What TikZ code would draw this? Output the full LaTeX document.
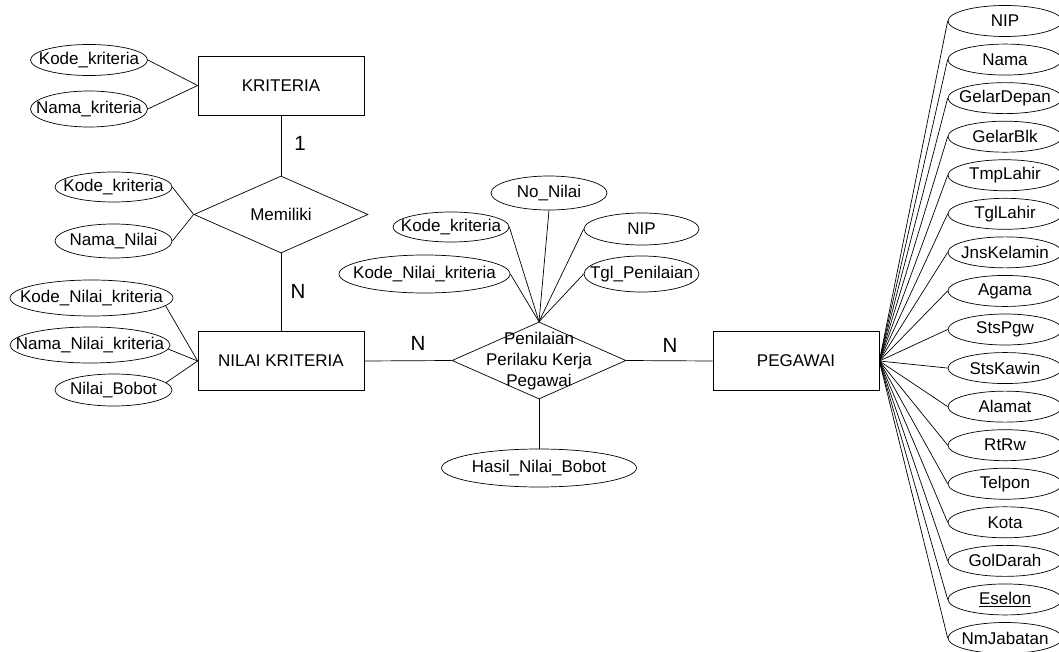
\documentclass[tikz,border=0pt]{standalone}
\usepackage{fontspec}
\setmainfont{Liberation Sans}
\usetikzlibrary{shapes.geometric}
\newcommand{\mb}[1]{\makebox[0pt][c]{#1}}
\tikzset{
  ent/.style={draw, rectangle, minimum width=166pt, minimum height=59pt, inner sep=0pt},
  rel/.style={draw, diamond, minimum width=174pt, minimum height=77pt, inner sep=0pt},
  attr/.style={draw, ellipse, inner sep=0pt, minimum width=117pt, minimum height=31pt},
  reltext/.style={inner sep=0pt},
  card/.style={inner sep=0pt, font=\fontsize{20.5}{24}\selectfont},
}
\begin{document}
\begin{tikzpicture}[x=1pt, y=-1pt, line width=0.7pt,
  font=\fontsize{17}{21}\selectfont]
\useasboundingbox (0,0) rectangle (1059,652);

% entities and relationships
\node[ent] (kri) at (281,85.5) {KRITERIA};
\node[rel] (mem) at (281,214.5) {};
\node[reltext] at (281,214.5) {Memiliki};
\node[ent] (nk) at (281,361) {NILAI KRITERIA};
\node[rel] (pen) at (539,360.5) {};
\node[reltext, align=center] at (539,361) {Penilaian\\Perilaku Kerja\\Pegawai};
\node[ent] (peg) at (796,361) {PEGAWAI};

% KRITERIA attributes
\node[attr] (k1) at (89,60) {\mb{Kode\_kriteria}};
\node[attr, minimum height=36pt] (k2) at (89,109) {\mb{Nama\_kriteria}};
\draw (k1.east) -- (kri.west);
\draw (k2.east) -- (kri.west);

% Memiliki attributes
\node[attr, minimum height=30pt] (m1) at (113.5,187) {\mb{Kode\_kriteria}};
\node[attr, minimum height=34pt] (m2) at (113.5,241) {\mb{Nama\_Nilai}};
\draw (m1.east) -- (mem.west);
\draw (m2.east) -- (mem.west);

% NILAI KRITERIA attributes
\node[attr, minimum width=163pt, minimum height=36pt] (n1) at (91.5,298) {\mb{Kode\_Nilai\_kriteria}};
\node[attr, minimum width=160pt, minimum height=36pt] (n2) at (90,345) {\mb{Nama\_Nilai\_kriteria}};
\node[attr, minimum height=32pt] (n3) at (113.5,390) {\mb{Nilai\_Bobot}};
\draw (n1.-6) -- (nk.west);
\draw (n2.-3) -- (nk.west);
\draw (n3.8) -- (nk.west);

% Penilaian attributes
\node[attr, minimum width=116pt, minimum height=34pt] (p0) at (549,193) {\mb{No\_Nilai}};
\node[attr, minimum width=116pt, minimum height=30pt] (p1) at (451,227) {\mb{Kode\_kriteria}};
\node[attr, minimum width=115pt, minimum height=32pt] (p2) at (641.5,229) {\mb{NIP}};
\node[attr, minimum width=171pt, minimum height=38pt] (p3) at (424.5,274) {\mb{Kode\_Nilai\_kriteria}};
\node[attr, minimum width=115pt, minimum height=36pt] (p4) at (641.5,274) {\mb{Tgl\_Penilaian}};
\node[attr, minimum width=195pt, minimum height=38pt] (h) at (539,468) {\mb{Hasil\_Nilai\_Bobot}};
\draw (p0.south) -- (pen.north);
\draw (p1.east) -- (pen.north);
\draw (p2.west) -- (pen.north);
\draw (p3.east) -- (pen.north);
\draw (p4.west) -- (pen.north);
\draw (pen.south) -- (h.north);

% relationship lines and cardinalities
\draw (kri.south) -- (mem.north);
\draw (mem.south) -- (nk.north);
\draw (nk.east) -- (pen.west);
\draw (pen.east) -- (peg.west);
\node[card] (c1) at (300,143) {1};
\node[card] (c2) at (298,291) {N};
\node[card] (c3) at (418,343) {N};
\node[card] (c4) at (670,345) {N};

% PEGAWAI attributes
\foreach \t [count=\i] in {NIP,Nama,GelarDepan,GelarBlk,TmpLahir,TglLahir,JnsKelamin,Agama,StsPgw,StsKawin,Alamat,RtRw,Telpon,Kota,GolDarah,\underline{Eselon},NmJabatan}{
  \node[attr, minimum width=114pt, minimum height=31pt] (r\i) at (1005,{21+38.5625*(\i-1)}) {\mb{\t}};
  \draw (peg.east) -- (r\i.west);
}
\end{tikzpicture}
\end{document}
